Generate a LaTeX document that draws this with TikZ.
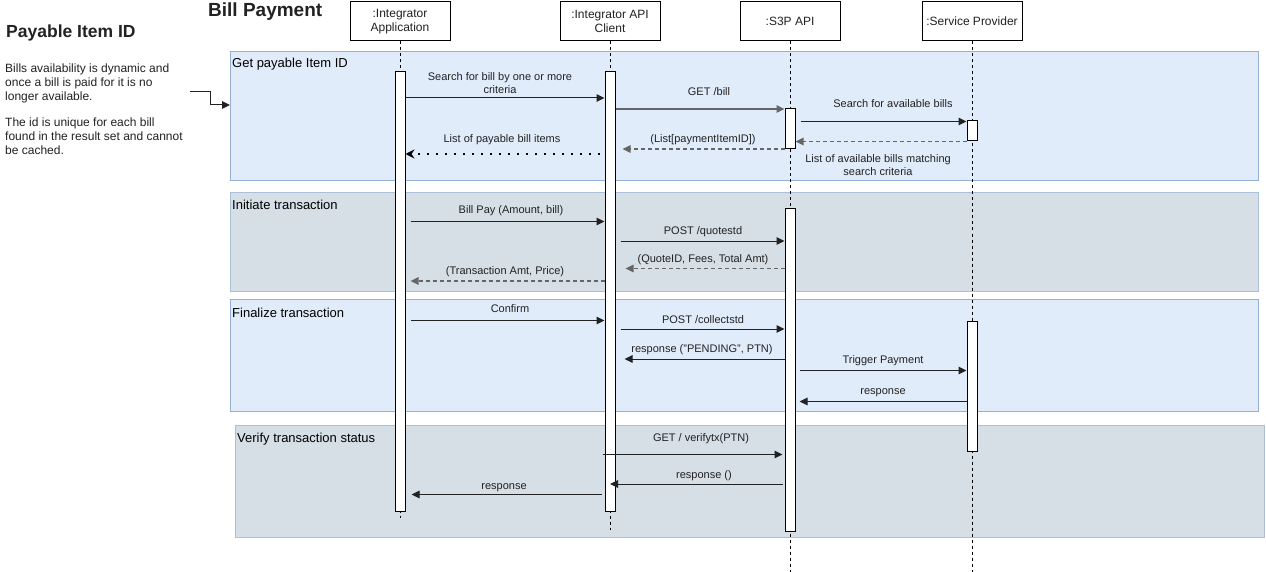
\documentclass[tikz,border=0pt]{standalone}
\usepackage{fontspec}
\setmainfont{Liberation Sans}
\usetikzlibrary{arrows.meta}
\definecolor{bandblue}{HTML}{E1ECFA}
\definecolor{bandblueline}{HTML}{97B0D8}
\definecolor{bandgray}{HTML}{D6DEE6}
\definecolor{bandgrayline}{HTML}{ABBFD9}
\definecolor{txt}{HTML}{222222}
\definecolor{retgray}{HTML}{666666}
\definecolor{msgline}{HTML}{222222}
\begin{document}
\begin{tikzpicture}[x=1pt,y=-1pt,
  hdr/.style={draw=black, fill=white, line width=1pt, minimum width=100pt, minimum height=39pt,
    align=center, inner sep=0pt, font=\fontsize{12}{14}\selectfont, text=txt},
  bar/.style={draw=black, fill=white, line width=1pt, minimum width=10pt, inner sep=0pt},
  life/.style={draw=black, line width=0.8pt, dash pattern=on 3pt off 3pt},
  tip/.style={-{Triangle[length=8pt,width=7.5pt]}},
  msg/.style={tip, draw=msgline, line width=1pt},
  msgg/.style={tip, draw=retgray, line width=1.5pt},
  ret/.style={tip, draw=retgray, line width=1.3pt, dash pattern=on 4pt off 3pt},
  dots/.style={-{Stealth[length=9pt,width=9pt,inset=3pt]}, draw=black, line width=1.6pt, dash pattern=on 1.6pt off 7.4pt},
  lbl/.style={font=\fontsize{11}{13}\selectfont, text=txt, inner sep=0pt, text height=8pt, text depth=2.3pt},
  lbltwo/.style={font=\fontsize{11}{13}\selectfont, text=txt, inner sep=0pt, align=center},
  btitle/.style={font=\fontsize{13}{15}\selectfont, text=black, inner sep=0pt, anchor=west},
  bandB/.style={draw=bandblueline, fill=bandblue, line width=1pt},
  bandG/.style={draw=bandgrayline, fill=bandgray, line width=1pt},
  note/.style={font=\fontsize{12}{14}\selectfont, text=txt, inner sep=0pt, align=left, anchor=north west}
]
\useasboundingbox (0,0) rectangle (1266,572);
\fill[white] (0,0) rectangle (1266,572);

% bands
\draw[bandB] (230,52) rectangle (1258,181);
\draw[bandG] (230,193) rectangle (1258,291);
\draw[bandB] (230,299) rectangle (1258,411);
\draw[bandG] (235,425) rectangle (1264,537);

\node[btitle] (b1) at (232,64) {Get payable Item ID};
\node[btitle] (b2) at (232,205) {Initiate transaction};
\node[btitle] (b3) at (232,313) {Finalize transaction};
\node[btitle] (b4) at (237,439) {Verify transaction status};

% titles and note
\node[font=\bfseries\fontsize{19}{22}\selectfont, text=txt, inner sep=0pt, anchor=west] (title) at (208,12) {Bill Payment};
\node[font=\bfseries\fontsize{17.5}{20}\selectfont, text=txt, inner sep=0pt, anchor=west] (ntitle) at (6,33) {Payable Item ID};
\node[note] (n1) at (5,63.5) {Bills availability is dynamic and\\once a bill is paid for it is no\\longer available.};
\node[note] (n2) at (5,117.5) {The id is unique for each bill\\found in the result set and cannot\\be cached.};
\coordinate (e0) at (190,92);
\coordinate (e1) at (210,92);
\coordinate (e2) at (210,105);
\coordinate (band1w) at (230,105);
\draw[msg] (e0) -- (e1) -- (e2) -- (band1w);

% headers
\node[hdr] (hA) at (400,21.5) {:Integrator\\Application};
\node[hdr] (hB) at (610,21.5) {:Integrator API\\Client};
\node[hdr] (hC) at (790,21.5) {:S3P API};
\node[hdr] (hD) at (972,21.5) {:Service Provider};

% lifelines
\coordinate (endA) at (400,518);
\coordinate (endB) at (610,530);
\coordinate (endC) at (790,572);
\coordinate (endD) at (972,572);
\draw[life] (hA.south) -- (endA);
\draw[life] (hB.south) -- (endB);
\draw[life] (hC.south) -- (endC);
\draw[life] (hD.south) -- (endD);

% activation bars
\node[bar, minimum height=439pt] (aA) at (400,291.5) {};
\node[bar, minimum height=439pt] (aB) at (610,291.5) {};
\node[bar, minimum height=40pt] (aC1) at (790,129) {};
\node[bar, minimum height=20pt] (aD1) at (972,131) {};
\node[bar, minimum height=322pt] (aC2) at (790,370) {};
\node[bar, minimum height=130pt] (aD2) at (972,386) {};

% band 1 messages
\draw[msg] (aA.east |- 0,98) -- (aB.west |- 0,98);
\node[lbltwo] (m1) at (500,83.5) {Search for bill by one or more\\criteria};
\draw[msgg] (aB.east |- 0,109) -- (aC1.west |- 0,109);
\node[lbl] (m2) at (709,93) {GET /bill};
\draw[msg] ([xshift=5pt]aC1.east |- 0,121.5) -- (aD1.west |- 0,121.5);
\node[lbl] (m3) at (893,105) {Search for available bills};
\draw[ret] (aD1.west |- 0,141.5) -- (aC1.east |- 0,141.5);
\node[lbltwo] (m4) at (878,165.5) {List of available bills matching\\search criteria};
\draw[ret] (aC1.west |- 0,149) -- ([xshift=7pt]aB.east |- 0,149);
\node[lbl] (m5) at (703,140) {(List[paymentItemID])};
\draw[dots] ([xshift=-5pt]aB.west |- 0,154) -- (aA.east |- 0,154);
\node[lbl] (m6) at (502,140) {List of payable bill items};

% band 2 messages
\draw[msg] ([xshift=5pt]aA.east |- 0,221.5) -- (aB.west |- 0,221.5);
\node[lbl] (m7) at (511,211) {Bill Pay (Amount, bill)};
\draw[msg] ([xshift=5pt]aB.east |- 0,241) -- (aC2.west |- 0,241);
\node[lbl] (m8) at (703,232) {POST /quotestd};
\draw[ret] (aC2.west |- 0,268.5) -- ([xshift=10pt]aB.east |- 0,268.5);
\node[lbl] (m9) at (703,259.5) {(QuoteID, Fees, Total Amt)};
\draw[ret] (aB.west |- 0,281) -- ([xshift=5pt]aA.east |- 0,281);
\node[lbl] (m10) at (505,272) {(Transaction Amt, Price)};

% band 3 messages
\draw[msg] ([xshift=5pt]aA.east |- 0,320.5) -- (aB.west |- 0,320.5);
\node[lbl] (m11) at (510,310) {Confirm};
\draw[msg] ([xshift=5pt]aB.east |- 0,329) -- (aC2.west |- 0,329);
\node[lbl] (m12) at (703,320.5) {POST /collectstd};
\draw[msg] (aC2.west |- 0,359) -- ([xshift=9pt]aB.east |- 0,359);
\node[lbl] (m13) at (702,350) {response ("PENDING", PTN)};
\draw[msg] ([xshift=4pt]aC2.east |- 0,370.5) -- (aD2.west |- 0,370.5);
\node[lbl] (m14) at (883,361) {Trigger Payment};
\draw[msg] (aD2.west |- 0,401.5) -- ([xshift=4pt]aC2.east |- 0,401.5);
\node[lbl] (m15) at (883,392) {response};

% band 4 messages
\draw[msg] ([xshift=-2pt]aB.west |- 0,454.5) -- ([xshift=-2pt]aC2.west |- 0,454.5);
\node[lbl] (m16) at (701,439) {GET / verifytx(PTN)};
\draw[msg] ([xshift=-2pt]aC2.west |- 0,484) -- (aB |- 0,484);
\node[lbl] (m17) at (704,476) {response ()};
\draw[msg] ([xshift=-3pt]aB.west |- 0,494.5) -- ([xshift=6pt]aA.east |- 0,494.5);
\node[lbl] (m18) at (504,486.5) {response};
\end{tikzpicture}
\end{document}
